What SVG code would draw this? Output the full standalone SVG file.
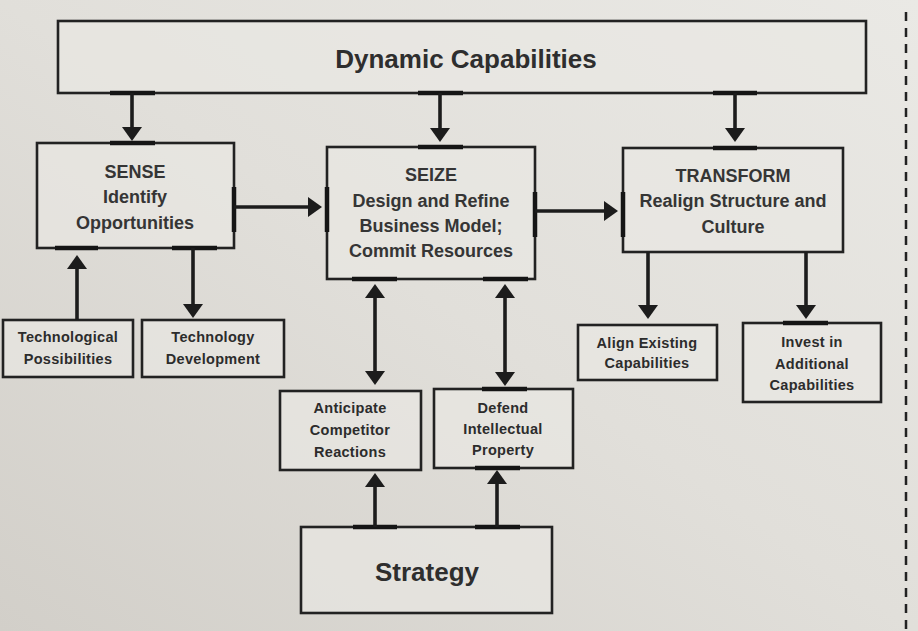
<svg xmlns="http://www.w3.org/2000/svg" width="918" height="631" viewBox="0 0 918 631">
<defs>
<linearGradient id="bg" x1="1" y1="0" x2="0" y2="1">
<stop offset="0" stop-color="#eae9e5"/>
<stop offset="0.5" stop-color="#e1dfda"/>
<stop offset="1" stop-color="#d2cfc9"/>
</linearGradient>
<marker id="ah" viewBox="0 0 14 20" refX="6" refY="10" markerWidth="14" markerHeight="20" markerUnits="userSpaceOnUse" orient="auto-start-reverse">
<path d="M0,0 L14,10 L0,20 z" fill="#1c1c1c"/>
</marker>
<style>
.box{fill:#e9e8e4;fill-opacity:0.65;stroke:#222;stroke-width:2.6}
.bar{stroke:#151515;stroke-width:4.5;stroke-linecap:butt}
.arr{stroke:#1c1c1c;stroke-width:3.6;fill:none}
.big{font-family:"Liberation Sans",Arial,sans-serif;font-weight:bold;font-size:18px;fill:#353535;text-anchor:middle}
.sm{font-family:"Liberation Sans",Arial,sans-serif;font-weight:bold;font-size:14.5px;letter-spacing:0.3px;fill:#2c2c2c;text-anchor:middle}
.title{font-family:"Liberation Sans",Arial,sans-serif;font-weight:bold;font-size:26px;fill:#2e2e2e;text-anchor:middle}
</style>
</defs>
<rect x="0" y="0" width="918" height="631" fill="url(#bg)"/>
<line x1="906" y1="12" x2="906" y2="631" stroke="#222" stroke-width="2.5" stroke-dasharray="9 7"/>

<g id="dynamic-capabilities">
<rect class="box" x="58" y="21" width="808" height="72"/>
<text class="title" x="466" y="68">Dynamic Capabilities</text>
<line class="bar" x1="110" y1="93" x2="155" y2="93"/>
<line class="bar" x1="418" y1="93" x2="463" y2="93"/>
<line class="bar" x1="713" y1="93" x2="757" y2="93"/>
</g>

<g id="sense">
<rect class="box" x="37" y="143" width="197" height="105"/>
<text class="big" x="135" y="178">SENSE</text>
<text class="big" x="135" y="203">Identify</text>
<text class="big" x="135" y="229">Opportunities</text>
<line class="bar" x1="110" y1="143" x2="155" y2="143"/>
<line class="bar" x1="55" y1="248" x2="98" y2="248"/>
<line class="bar" x1="172" y1="248" x2="217" y2="248"/>
<line class="bar" x1="234" y1="187" x2="234" y2="232"/>
</g>

<g id="seize">
<rect class="box" x="327" y="147" width="208" height="132"/>
<text class="big" x="431" y="181">SEIZE</text>
<text class="big" x="431" y="207">Design and Refine</text>
<text class="big" x="431" y="232">Business Model;</text>
<text class="big" x="431" y="257">Commit Resources</text>
<line class="bar" x1="418" y1="147" x2="463" y2="147"/>
<line class="bar" x1="327" y1="187" x2="327" y2="232"/>
<line class="bar" x1="535" y1="192" x2="535" y2="237"/>
<line class="bar" x1="352" y1="279" x2="397" y2="279"/>
<line class="bar" x1="483" y1="279" x2="528" y2="279"/>
</g>

<g id="transform">
<rect class="box" x="623" y="148" width="220" height="104"/>
<text class="big" x="733" y="182">TRANSFORM</text>
<text class="big" x="733" y="207">Realign Structure and</text>
<text class="big" x="733" y="233">Culture</text>
<line class="bar" x1="713" y1="148" x2="757" y2="148"/>
<line class="bar" x1="623" y1="192" x2="623" y2="237"/>
</g>

<g id="technological-possibilities">
<rect class="box" x="3" y="320" width="130" height="57"/>
<text class="sm" x="68" y="342">Technological</text>
<text class="sm" x="68" y="364">Possibilities</text>
</g>

<g id="technology-development">
<rect class="box" x="142" y="320" width="142" height="57"/>
<text class="sm" x="213" y="342">Technology</text>
<text class="sm" x="213" y="364">Development</text>
</g>

<g id="align-existing">
<rect class="box" x="578" y="325" width="139" height="55"/>
<text class="sm" x="647" y="348">Align Existing</text>
<text class="sm" x="647" y="368">Capabilities</text>
</g>

<g id="invest-additional">
<rect class="box" x="743" y="323" width="138" height="79"/>
<text class="sm" x="812" y="347">Invest in</text>
<text class="sm" x="812" y="369">Additional</text>
<text class="sm" x="812" y="390">Capabilities</text>
<line class="bar" x1="783" y1="323" x2="828" y2="323"/>
</g>

<g id="anticipate">
<rect class="box" x="280" y="391" width="141" height="79"/>
<text class="sm" x="350" y="413">Anticipate</text>
<text class="sm" x="350" y="435">Competitor</text>
<text class="sm" x="350" y="457">Reactions</text>
</g>

<g id="defend">
<rect class="box" x="434" y="389" width="139" height="79"/>
<text class="sm" x="503" y="413">Defend</text>
<text class="sm" x="503" y="434">Intellectual</text>
<text class="sm" x="503" y="455">Property</text>
<line class="bar" x1="482" y1="389" x2="527" y2="389"/>
<line class="bar" x1="475" y1="468" x2="520" y2="468"/>
</g>

<g id="strategy">
<rect class="box" x="301" y="527" width="251" height="86"/>
<text class="title" x="427" y="581">Strategy</text>
<line class="bar" x1="353" y1="527" x2="397" y2="527"/>
<line class="bar" x1="475" y1="527" x2="520" y2="527"/>
</g>

<g id="connectors">
<line class="arr" x1="132" y1="93" x2="132" y2="133" marker-end="url(#ah)"/>
<line class="arr" x1="440" y1="93" x2="440" y2="134" marker-end="url(#ah)"/>
<line class="arr" x1="735" y1="93" x2="735" y2="134" marker-end="url(#ah)"/>
<line class="arr" x1="234" y1="207" x2="314" y2="207" marker-end="url(#ah)"/>
<line class="arr" x1="535" y1="211" x2="610" y2="211" marker-end="url(#ah)"/>
<line class="arr" x1="77" y1="320" x2="77" y2="263" marker-end="url(#ah)"/>
<line class="arr" x1="193" y1="248" x2="193" y2="310" marker-end="url(#ah)"/>
<line class="arr" x1="648" y1="252" x2="648" y2="311" marker-end="url(#ah)"/>
<line class="arr" x1="806" y1="252" x2="806" y2="311" marker-end="url(#ah)"/>
<line class="arr" x1="375" y1="292" x2="375" y2="377" marker-start="url(#ah)" marker-end="url(#ah)"/>
<line class="arr" x1="505" y1="292" x2="505" y2="378" marker-start="url(#ah)" marker-end="url(#ah)"/>
<line class="arr" x1="375" y1="527" x2="375" y2="481" marker-end="url(#ah)"/>
<line class="arr" x1="497" y1="527" x2="497" y2="478" marker-end="url(#ah)"/>
</g>
</svg>
